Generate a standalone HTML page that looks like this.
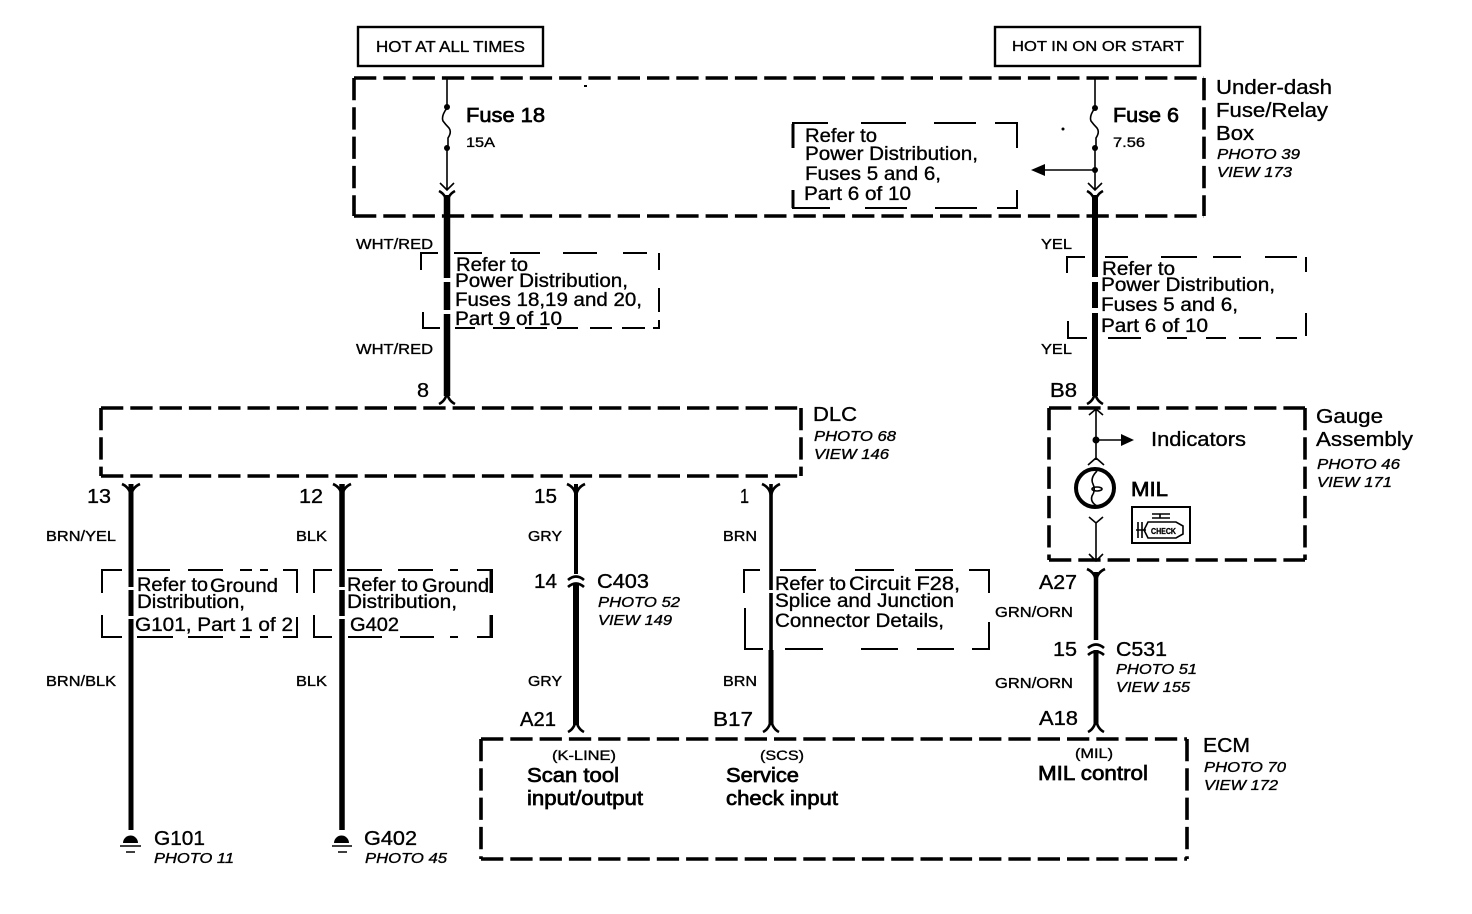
<!DOCTYPE html>
<html><head><meta charset="utf-8"><style>
html,body{margin:0;padding:0;background:#fff;width:1472px;height:914px;overflow:hidden}
svg{display:block}
text{font-family:"Liberation Sans",sans-serif;fill:#000;stroke:#000;stroke-width:.35}
.i{font-style:italic;font-size:15px}
.s{font-size:15px}
.m{font-size:19px}
.b{font-size:20px;stroke-width:.7}
.l{font-size:20px}
.d{fill:none;stroke:#000;stroke-width:3.6;stroke-dasharray:22.3 7}
.r{fill:none;stroke:#000;stroke-width:2}
.t{fill:none;stroke:#000;stroke-width:1.6}
.c{fill:none;stroke:#000;stroke-width:2.6}
</style></head><body>
<svg width="1472" height="914" viewBox="0 0 1472 914" xmlns="http://www.w3.org/2000/svg">
<rect width="1472" height="914" fill="#fff"/>

<!-- top boxes -->
<rect x="358" y="27" width="185" height="39" fill="none" stroke="#000" stroke-width="2.4"/>
<rect x="995" y="27" width="205" height="39" fill="none" stroke="#000" stroke-width="2.4"/>
<text x="376" y="52" font-size="16" textLength="149" lengthAdjust="spacingAndGlyphs">HOT AT ALL TIMES</text>
<text x="1012" y="51" font-size="15" textLength="172" lengthAdjust="spacingAndGlyphs">HOT IN ON OR START</text>

<!-- dashed component boxes -->
<path class="d" d="M354 78H1204"/><path class="d" d="M354 216H1204"/><path class="d" d="M354 78V216"/><path class="d" d="M1204 78V216"/>
<path class="d" d="M101 408H801"/><path class="d" d="M101 476H801"/><path class="d" d="M101 408V476"/><path class="d" d="M801 408V476"/>
<path class="d" d="M1049 408H1305"/><path class="d" d="M1049 560H1305"/><path class="d" d="M1049 408V560"/><path class="d" d="M1305 408V560"/>
<path class="d" d="M481 739H1187"/><path class="d" d="M481 859H1187"/><path class="d" d="M481 739V859"/><path class="d" d="M1187 739V859"/>

<!-- refer boxes -->
<path class="r" d="M793 148V123H828M861 123H906M934 123H976M995 123H1017V148M1017 190V208H997M977 208H935M907 208H865M830 208H793V190"/>
<path d="M793 124V148M793 190V208" stroke="#000" stroke-width="3" fill="none"/>
<path class="r" d="M421 270V253H438M454 253H482M510 253H540M563 253H597M623 253H647M659 253V270M659 288V312M423 312V328H440M455 328H475M493 328H515M525 328H547M557 328H578M590 328H612M622 328H645M653 328H659V320"/>
<path class="r" d="M1067 273V257H1085M1105 257H1128M1161 257H1197M1213 257H1241M1265 257H1297M1306 257V272M1306 313V336M1068 321V338H1087M1108 338H1141M1167 338H1187M1206 338H1226M1239 338H1261M1276 338H1297"/>
<path class="r" d="M102 593V570H122M137 570H170M188 570H223M240 570H252M260 570H268M283 570H297V593M297 617V637H283M268 637H260M250 637H240M223 637H188M173 637H137M122 637H102V615"/>
<path class="r" d="M314 593V570H332M347 570H382M398 570H433M450 570H458M477 570H492V593M492 615V637H477M458 637H450M434 637H400M382 637H348M332 637H314V615"/>
<path d="M491 570V593M491 615V637" stroke="#000" stroke-width="3" fill="none"/>
<path class="r" d="M744 593V570H760M780 570H816M855 570H894M915 570H953M969 570H989V593M989 622V649H972M954 649H917M898 649H861M823 649H785M763 649H745V608"/>

<!-- heavy wires -->
<path d="M447 195V278M447 282V310M447 314V396" stroke="#000" stroke-width="6.5" fill="none"/>
<path d="M1095 195V277M1095 282V308M1095 313V396" stroke="#000" stroke-width="6" fill="none"/>
<path d="M131 484V587M131 590V616M131 619V830" stroke="#000" stroke-width="5" fill="none"/>
<path d="M342 484V587M342 590V616M342 619V830" stroke="#000" stroke-width="5.5" fill="none"/>
<path d="M576 484V574" stroke="#000" stroke-width="4" fill="none"/>
<path d="M576 584V725" stroke="#000" stroke-width="6" fill="none"/>
<path d="M771 484V590M771 593V650" stroke="#000" stroke-width="3.6" fill="none"/>
<path d="M771 650V725" stroke="#000" stroke-width="5" fill="none"/>
<path d="M1096 572V640" stroke="#000" stroke-width="4.5" fill="none"/>
<path d="M1096 650V725" stroke="#000" stroke-width="5" fill="none"/>

<!-- pin ends: down-pointing top of wire (Y) and bottom of wire (inverted Y) -->
<path class="c" d="M439 404Q447 400 447 390Q447 400 455 404"/>
<path class="c" d="M1087 404Q1095 400 1095 390Q1095 400 1103 404"/>
<path class="c" d="M122 484Q131 488 131 498Q131 488 140 484"/>
<path class="c" d="M333 484Q342 488 342 498Q342 488 351 484"/>
<path class="c" d="M567 484Q576 488 576 498Q576 488 585 484"/>
<path class="c" d="M762 484Q771 488 771 498Q771 488 780 484"/>
<path class="c" d="M1087 569Q1096 573 1096 583Q1096 573 1105 569"/>
<path class="c" d="M568 732Q576 728 576 716Q576 728 584 732"/>
<path class="c" d="M763 732Q771 728 771 716Q771 728 779 732"/>
<path class="c" d="M1088 732Q1096 728 1096 716Q1096 728 1104 732"/>

<!-- inline connectors -->
<path class="c" d="M568 580Q576 573 584 580"/><path class="c" d="M568 587Q576 580 584 587"/>
<path class="c" d="M1088 648Q1096 641 1104 648"/><path class="c" d="M1088 655Q1096 648 1104 655"/>

<!-- fuse 18 -->
<path class="t" d="M447 78V108"/>
<circle cx="447" cy="107" r="3"/>
<path class="t" d="M447 108Q441 116 443 121Q446 125 449 128Q452 132 448 138V148"/>
<circle cx="447" cy="148" r="3"/>
<path class="t" d="M447 148V190M440 183L447 190L454 183"/>
<path class="c" d="M439 191Q447 195 447 206Q447 195 455 191"/>

<!-- fuse 6 -->
<path class="t" d="M1095 78V108"/>
<circle cx="1095" cy="108" r="3"/>
<path class="t" d="M1095 108Q1089 116 1091 121Q1094 125 1097 128Q1100 132 1096 138V148"/>
<circle cx="1095" cy="148" r="3"/>
<circle cx="1095" cy="170" r="3"/>
<path class="t" d="M1095 148V190M1088 183L1095 190L1102 183M1095 170H1042"/>
<path d="M1031 170L1045 164V176Z"/>
<path class="c" d="M1087 191Q1095 195 1095 206Q1095 195 1103 191"/>
<circle cx="1063" cy="129" r="1.5"/><rect x="584" y="85" width="3" height="2"/>

<!-- gauge internals -->
<path class="t" d="M1096 408V460M1089 415L1096 409L1103 415M1096 440H1122M1088 465L1096 458L1104 465"/>
<circle cx="1096" cy="440" r="3.5"/>
<path d="M1134 440L1121 434V446Z"/>
<circle cx="1095" cy="488" r="19" fill="none" stroke="#000" stroke-width="4"/>
<path class="t" d="M1097 471Q1090 478 1093 484Q1096 490 1092 496Q1090 502 1097 506"/>
<ellipse cx="1097" cy="489" rx="5" ry="2" fill="none" stroke="#000" stroke-width="1.6"/>
<path class="t" d="M1089 517L1096 523L1103 517M1096 523V560M1089 554L1096 561L1103 554"/>
<rect x="1132" y="507" width="58" height="36" fill="none" stroke="#000" stroke-width="2"/>
<path class="t" d="M1152 514H1170M1160 514V518M1152 518H1170M1138 522V538M1142 522V538M1136 530H1146"/>
<path class="t" d="M1148 522H1176L1183 526V534L1176 538H1148L1144 530Z"/>
<text x="1151" y="534" font-size="8" textLength="25" lengthAdjust="spacingAndGlyphs" style="stroke-width:.3;font-weight:bold">CHECK</text>

<!-- grounds -->
<path d="M123 843A7.5 7.5 0 0 1 138 843Z"/>
<path d="M120 846H141M126 852H135" stroke="#000" stroke-width="1.6"/>
<path d="M334 843A7.5 7.5 0 0 1 349 843Z"/>
<path d="M332 846H352M338 852H347" stroke="#000" stroke-width="1.6"/>

<!-- labels -->
<text class="b" x="466" y="122" font-size="20" textLength="79" lengthAdjust="spacingAndGlyphs">Fuse 18</text>
<text x="466" y="147" font-size="14" textLength="29" lengthAdjust="spacingAndGlyphs">15A</text>
<text class="b" x="1113" y="122" textLength="66" lengthAdjust="spacingAndGlyphs">Fuse 6</text>
<text x="1113" y="147" font-size="14" textLength="32" lengthAdjust="spacingAndGlyphs">7.56</text>

<text class="l" x="1216" y="94" textLength="116" lengthAdjust="spacingAndGlyphs">Under-dash</text>
<text class="l" x="1216" y="117" textLength="112" lengthAdjust="spacingAndGlyphs">Fuse/Relay</text>
<text class="l" x="1216" y="140" textLength="38" lengthAdjust="spacingAndGlyphs">Box</text>
<text class="i" x="1217" y="159" textLength="83" lengthAdjust="spacingAndGlyphs">PHOTO 39</text>
<text class="i" x="1217" y="177" textLength="75" lengthAdjust="spacingAndGlyphs">VIEW 173</text>

<text class="m" x="805" y="142" textLength="72" lengthAdjust="spacingAndGlyphs">Refer to</text>
<text class="m" x="805" y="160" textLength="173" lengthAdjust="spacingAndGlyphs">Power Distribution,</text>
<text class="m" x="805" y="180" textLength="136" lengthAdjust="spacingAndGlyphs">Fuses 5 and 6,</text>
<text class="m" x="804" y="200" textLength="107" lengthAdjust="spacingAndGlyphs">Part 6 of 10</text>

<text class="s" x="356" y="249" textLength="77" lengthAdjust="spacingAndGlyphs">WHT/RED</text>
<text class="s" x="356" y="354" textLength="77" lengthAdjust="spacingAndGlyphs">WHT/RED</text>
<text class="m" x="456" y="271" textLength="72" lengthAdjust="spacingAndGlyphs">Refer to</text>
<text class="m" x="455" y="287" textLength="173" lengthAdjust="spacingAndGlyphs">Power Distribution,</text>
<text class="m" x="455" y="306" textLength="187" lengthAdjust="spacingAndGlyphs">Fuses 18,19 and 20,</text>
<text class="m" x="455" y="325" textLength="107" lengthAdjust="spacingAndGlyphs">Part 9 of 10</text>
<text class="l" x="417" y="397" textLength="12" lengthAdjust="spacingAndGlyphs">8</text>

<text class="s" x="1041" y="249" textLength="31" lengthAdjust="spacingAndGlyphs">YEL</text>
<text class="s" x="1041" y="354" textLength="31" lengthAdjust="spacingAndGlyphs">YEL</text>
<text class="m" x="1102" y="275" textLength="73" lengthAdjust="spacingAndGlyphs">Refer to</text>
<text class="m" x="1101" y="291" textLength="174" lengthAdjust="spacingAndGlyphs">Power Distribution,</text>
<text class="m" x="1101" y="311" textLength="137" lengthAdjust="spacingAndGlyphs">Fuses 5 and 6,</text>
<text class="m" x="1101" y="332" textLength="107" lengthAdjust="spacingAndGlyphs">Part 6 of 10</text>
<text class="l" x="1050" y="397" textLength="27" lengthAdjust="spacingAndGlyphs">B8</text>

<text class="l" x="813" y="421" textLength="44" lengthAdjust="spacingAndGlyphs">DLC</text>
<text class="i" x="814" y="441" textLength="82" lengthAdjust="spacingAndGlyphs">PHOTO 68</text>
<text class="i" x="814" y="459" textLength="75" lengthAdjust="spacingAndGlyphs">VIEW 146</text>

<text class="l" x="1316" y="423" textLength="67" lengthAdjust="spacingAndGlyphs">Gauge</text>
<text class="l" x="1316" y="446" textLength="97" lengthAdjust="spacingAndGlyphs">Assembly</text>
<text class="i" x="1317" y="469" textLength="83" lengthAdjust="spacingAndGlyphs">PHOTO 46</text>
<text class="i" x="1317" y="487" textLength="75" lengthAdjust="spacingAndGlyphs">VIEW 171</text>
<text class="l" x="1151" y="446" textLength="95" lengthAdjust="spacingAndGlyphs">Indicators</text>
<text class="b" x="1131" y="496" textLength="37" lengthAdjust="spacingAndGlyphs">MIL</text>

<text class="l" x="87" y="503" textLength="24" lengthAdjust="spacingAndGlyphs">13</text>
<text class="l" x="299" y="503" textLength="24" lengthAdjust="spacingAndGlyphs">12</text>
<text class="l" x="534" y="503" textLength="23" lengthAdjust="spacingAndGlyphs">15</text>
<text class="l" x="740" y="503" textLength="9" lengthAdjust="spacingAndGlyphs">1</text>

<text class="s" x="46" y="541" textLength="70" lengthAdjust="spacingAndGlyphs">BRN/YEL</text>
<text class="s" x="296" y="541" textLength="31" lengthAdjust="spacingAndGlyphs">BLK</text>
<text class="s" x="528" y="541" textLength="34" lengthAdjust="spacingAndGlyphs">GRY</text>
<text class="s" x="723" y="541" textLength="34" lengthAdjust="spacingAndGlyphs">BRN</text>
<text class="s" x="46" y="686" textLength="70" lengthAdjust="spacingAndGlyphs">BRN/BLK</text>
<text class="s" x="296" y="686" textLength="31" lengthAdjust="spacingAndGlyphs">BLK</text>
<text class="s" x="528" y="686" textLength="34" lengthAdjust="spacingAndGlyphs">GRY</text>
<text class="s" x="723" y="686" textLength="34" lengthAdjust="spacingAndGlyphs">BRN</text>

<text class="m" x="137" y="591" textLength="71" lengthAdjust="spacingAndGlyphs">Refer to</text>
<text class="m" x="210" y="592" textLength="68" lengthAdjust="spacingAndGlyphs">Ground</text>
<text class="m" x="137" y="608" textLength="108" lengthAdjust="spacingAndGlyphs">Distribution,</text>
<text class="m" x="135" y="631" textLength="158" lengthAdjust="spacingAndGlyphs">G101, Part 1 of 2</text>

<text class="m" x="347" y="591" textLength="71" lengthAdjust="spacingAndGlyphs">Refer to</text>
<text class="m" x="422" y="592" textLength="67" lengthAdjust="spacingAndGlyphs">Ground</text>
<text class="m" x="347" y="608" textLength="110" lengthAdjust="spacingAndGlyphs">Distribution,</text>
<text class="m" x="350" y="631" textLength="49" lengthAdjust="spacingAndGlyphs">G402</text>

<text class="l" x="534" y="588" textLength="23" lengthAdjust="spacingAndGlyphs">14</text>
<text class="l" x="597" y="588" textLength="52" lengthAdjust="spacingAndGlyphs">C403</text>
<text class="i" x="598" y="607" textLength="82" lengthAdjust="spacingAndGlyphs">PHOTO 52</text>
<text class="i" x="598" y="625" textLength="74" lengthAdjust="spacingAndGlyphs">VIEW 149</text>

<text class="m" x="775" y="590" textLength="71" lengthAdjust="spacingAndGlyphs">Refer to</text>
<text class="m" x="849" y="590" textLength="111" lengthAdjust="spacingAndGlyphs">Circuit F28,</text>
<text class="m" x="775" y="607" textLength="179" lengthAdjust="spacingAndGlyphs">Splice and Junction</text>
<text class="m" x="775" y="627" textLength="169" lengthAdjust="spacingAndGlyphs">Connector Details,</text>

<text class="s" x="995" y="617" textLength="78" lengthAdjust="spacingAndGlyphs">GRN/ORN</text>
<text class="s" x="995" y="688" textLength="78" lengthAdjust="spacingAndGlyphs">GRN/ORN</text>
<text class="l" x="1039" y="589" textLength="38" lengthAdjust="spacingAndGlyphs">A27</text>
<text class="l" x="1053" y="656" textLength="24" lengthAdjust="spacingAndGlyphs">15</text>
<text class="l" x="1116" y="656" textLength="51" lengthAdjust="spacingAndGlyphs">C531</text>
<text class="i" x="1116" y="674" textLength="81" lengthAdjust="spacingAndGlyphs">PHOTO 51</text>
<text class="i" x="1116" y="692" textLength="74" lengthAdjust="spacingAndGlyphs">VIEW 155</text>

<text class="l" x="520" y="726" textLength="36" lengthAdjust="spacingAndGlyphs">A21</text>
<text class="l" x="713" y="726" textLength="40" lengthAdjust="spacingAndGlyphs">B17</text>
<text class="l" x="1039" y="725" textLength="39" lengthAdjust="spacingAndGlyphs">A18</text>

<text x="552" y="760" font-size="14" textLength="64" lengthAdjust="spacingAndGlyphs">(K-LINE)</text>
<text x="760" y="760" font-size="14" textLength="44" lengthAdjust="spacingAndGlyphs">(SCS)</text>
<text x="1075" y="758" font-size="14" textLength="38" lengthAdjust="spacingAndGlyphs">(MIL)</text>
<text class="b" x="527" y="782" textLength="92" lengthAdjust="spacingAndGlyphs">Scan tool</text>
<text class="b" x="527" y="805" textLength="116" lengthAdjust="spacingAndGlyphs">input/output</text>
<text class="b" x="726" y="782" textLength="73" lengthAdjust="spacingAndGlyphs">Service</text>
<text class="b" x="726" y="805" textLength="112" lengthAdjust="spacingAndGlyphs">check input</text>
<text class="b" x="1038" y="780" textLength="110" lengthAdjust="spacingAndGlyphs">MIL control</text>

<text class="l" x="1203" y="752" textLength="47" lengthAdjust="spacingAndGlyphs">ECM</text>
<text class="i" x="1204" y="772" textLength="82" lengthAdjust="spacingAndGlyphs">PHOTO 70</text>
<text class="i" x="1204" y="790" textLength="74" lengthAdjust="spacingAndGlyphs">VIEW 172</text>

<text class="l" x="154" y="845" textLength="51" lengthAdjust="spacingAndGlyphs">G101</text>
<text class="i" x="154" y="863" textLength="80" lengthAdjust="spacingAndGlyphs">PHOTO 11</text>
<text class="l" x="364" y="845" textLength="53" lengthAdjust="spacingAndGlyphs">G402</text>
<text class="i" x="365" y="863" textLength="82" lengthAdjust="spacingAndGlyphs">PHOTO 45</text>
</svg>
</body></html>
